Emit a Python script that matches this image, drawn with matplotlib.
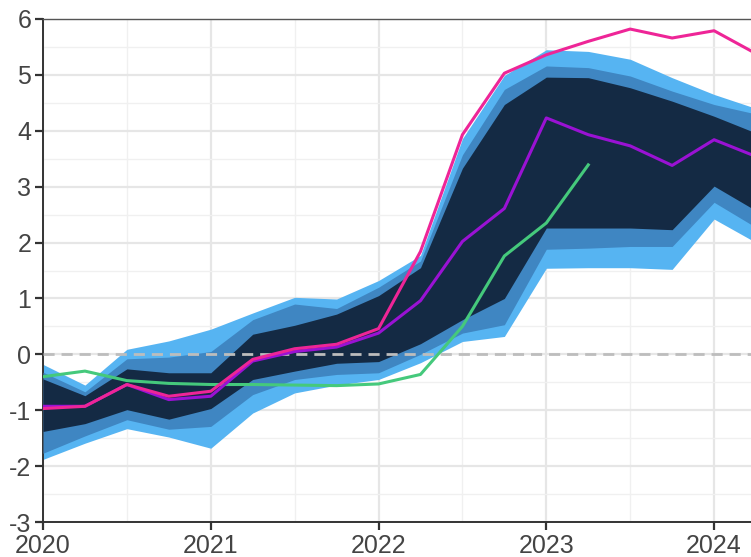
import numpy as np
import matplotlib.pyplot as plt
from matplotlib.ticker import MultipleLocator

plt.rcParams['font.family'] = ['Liberation Sans', 'DejaVu Sans']
plt.rcParams['axes.unicode_minus'] = False

# quarterly dates
quarters = np.arange(2020.0, 2024.26, 0.25)

# fan bands: (lower, upper) for outer, middle and inner band
outer_lo = [-1.88, -1.59, -1.33, -1.48, -1.68, -1.05, -0.69, -0.55, -0.45, -0.15,
            0.23, 0.32, 1.54, 1.55, 1.55, 1.52, 2.42, 2.00]
outer_hi = [-0.18, -0.55, 0.09, 0.24, 0.45, 0.74, 1.02, 0.99, 1.32, 1.77,
            3.86, 4.99, 5.45, 5.42, 5.28, 4.95, 4.65, 4.40]
mid_lo = [-1.77, -1.46, -1.17, -1.34, -1.29, -0.72, -0.45, -0.36, -0.33, 0.00,
          0.38, 0.53, 1.88, 1.90, 1.93, 1.93, 2.72, 2.27]
mid_hi = [-0.32, -0.67, -0.08, -0.05, 0.05, 0.62, 0.90, 0.82, 1.20, 1.67,
          3.57, 4.74, 5.16, 5.13, 4.98, 4.71, 4.47, 4.30]
inner_lo = [-1.38, -1.24, -0.99, -1.16, -0.97, -0.45, -0.30, -0.16, -0.13, 0.19,
            0.62, 1.00, 2.26, 2.26, 2.26, 2.23, 3.01, 2.57]
inner_hi = [-0.44, -0.74, -0.26, -0.33, -0.33, 0.36, 0.52, 0.72, 1.05, 1.55,
            3.33, 4.47, 4.96, 4.95, 4.77, 4.53, 4.26, 3.96]

# lines
magenta = [-0.97, -0.93, -0.54, -0.75, -0.66, -0.09, 0.10, 0.18, 0.46, 1.84,
           3.93, 5.03, 5.36, 5.60, 5.82, 5.66, 5.79, 5.38]
purple = [-0.93, -0.93, -0.54, -0.81, -0.75, -0.12, 0.05, 0.13, 0.38, 0.96,
          2.02, 2.61, 4.23, 3.93, 3.73, 3.38, 3.84, 3.54]
green_x = quarters[:14]
green = [-0.40, -0.30, -0.47, -0.52, -0.54, -0.54, -0.55, -0.56, -0.53, -0.36,
         0.50, 1.76, 2.35, 3.39]

fig = plt.figure(figsize=(7.51, 5.57), dpi=100)
ax = fig.add_axes([43 / 751, 35 / 557, 708 / 751, 503 / 557])

ax.fill_between(quarters, outer_lo, outer_hi, color='#56b4f2', lw=0, zorder=2)
ax.fill_between(quarters, mid_lo, mid_hi, color='#3f86c2', lw=0, zorder=3)
ax.fill_between(quarters, inner_lo, inner_hi, color='#142a44', lw=0, zorder=4)

ax.axhline(0, color='#bdbdbd', lw=2, ls=(0, (4, 2.5)), zorder=5)

ax.plot(green_x, green, color='#45c97c', lw=2.2, zorder=6)
ax.plot(quarters, purple, color='#9a12d4', lw=2.2, zorder=7)
ax.plot(quarters, magenta, color='#ee2597', lw=2.2, zorder=8)

ax.set_xlim(2020, 2024.22)
ax.set_ylim(-3, 6)
ax.xaxis.set_major_locator(MultipleLocator(1))
ax.xaxis.set_minor_locator(MultipleLocator(0.5))
ax.yaxis.set_major_locator(MultipleLocator(1))
ax.yaxis.set_minor_locator(MultipleLocator(0.5))

ax.grid(which='major', color='#e6e6e6', lw=1.6, zorder=0)
ax.grid(which='minor', color='#f0f0f0', lw=1.0, zorder=0)
ax.set_axisbelow(True)

for s in ['left', 'bottom']:
    ax.spines[s].set_color('#333333')
    ax.spines[s].set_linewidth(1.4)
ax.spines['top'].set_color('#555555')
ax.spines['top'].set_linewidth(1.0)
ax.spines['right'].set_visible(False)

ax.tick_params(which='major', direction='out', length=5.5, width=1.6,
               color='#333333', labelsize=18, labelcolor='#444444', pad=3)
ax.tick_params(which='minor', length=0)

fig.savefig('out.png', dpi=100)
